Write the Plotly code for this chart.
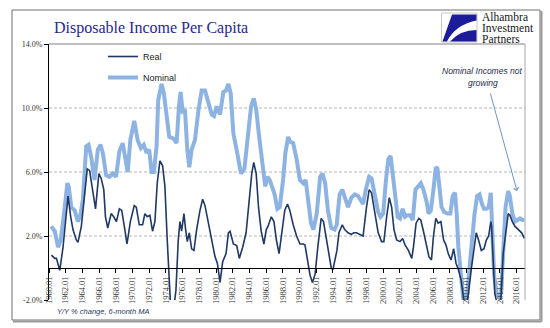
import plotly.graph_objects as go

# Nominal disposable income per capita, Y/Y % change (6-month MA)
nominal_year = [
    1960.25, 1960.69, 1961.09, 1961.40, 1961.80, 1962.20, 1962.36, 1962.67, 1963.07, 1963.47,
    1963.79, 1964.06, 1964.46, 1964.74, 1965.06, 1965.45, 1965.85, 1966.17, 1966.44, 1966.84,
    1967.24, 1967.63, 1968.03, 1968.43, 1968.83, 1969.22, 1969.42, 1969.74, 1970.21, 1970.61,
    1971.01, 1971.35, 1971.68, 1972.00, 1972.28, 1972.56, 1972.88, 1973.08, 1973.48, 1973.76,
    1974.08, 1974.40, 1974.88, 1975.28, 1975.56, 1975.76, 1976.00, 1976.28, 1976.56, 1976.80,
    1977.08, 1977.48, 1977.88, 1978.28, 1978.68, 1979.08, 1979.48, 1979.76, 1980.08, 1980.48,
    1980.88, 1981.20, 1981.48, 1981.76, 1982.08, 1982.50, 1982.79, 1982.99, 1983.40, 1983.80,
    1984.20, 1984.52, 1984.81, 1985.21, 1985.61, 1985.90, 1986.14, 1986.42, 1986.70, 1987.02,
    1987.35, 1987.63, 1988.03, 1988.31, 1988.64, 1988.84, 1989.24, 1989.65, 1990.05, 1990.45,
    1990.73, 1991.06, 1991.38, 1991.66, 1992.06, 1992.47, 1992.75, 1993.07, 1993.40, 1993.80,
    1994.20, 1994.45, 1994.80, 1995.12, 1995.41, 1995.81, 1996.21, 1996.61, 1997.01, 1997.61,
    1997.94, 1998.34, 1998.62, 1999.02, 1999.42, 1999.70, 2000.02, 2000.35, 2000.63, 2000.91,
    2001.15, 2001.43, 2001.75, 2002.03, 2002.35, 2002.63, 2002.92, 2003.24, 2003.56, 2003.88,
    2004.24, 2004.52, 2004.84, 2005.24, 2005.45, 2005.72, 2006.04, 2006.32, 2006.52, 2006.73,
    2007.01, 2007.33, 2007.73, 2008.06, 2008.34, 2008.62, 2008.82, 2009.02, 2009.35, 2009.67,
    2009.95, 2010.23, 2010.56, 2010.96, 2011.28, 2011.56, 2011.85, 2012.09, 2012.37, 2012.65,
    2012.90, 2013.06, 2013.30, 2013.60, 2013.90, 2014.15, 2014.38, 2014.67, 2014.99, 2015.19,
    2015.48, 2015.80, 2016.12, 2016.40, 2016.69, 2016.93,
]
nominal_pct = [
    2.6, 2.3, 1.3, 1.75, 3.4, 5.3, 5.1, 3.8, 3.6, 2.9,
    3.4, 4.3, 7.6, 7.7, 6.9, 5.5, 7.4, 7.7, 7.2, 5.8,
    5.7, 5.9, 5.7, 7.3, 7.8, 6.6, 6.0, 8.0, 9.2, 8.0,
    7.5, 7.7, 7.2, 7.4, 6.0, 6.0, 7.6, 10.5, 11.5, 10.9,
    9.3, 8.2, 8.1, 7.8, 10.1, 11.0, 9.8, 9.9, 7.4, 6.3,
    7.4, 8.0, 9.8, 11.1, 11.1, 10.3, 9.6, 9.5, 10.1, 9.6,
    11.0, 11.1, 11.5, 10.9, 8.4, 7.3, 6.2, 5.9, 6.2, 8.2,
    10.1, 10.6, 9.9, 8.0, 6.3, 5.1, 5.7, 5.5, 5.1, 4.6,
    3.7, 3.8, 5.5, 7.2, 8.2, 7.9, 7.8, 6.8, 5.5, 5.3,
    5.5, 4.3, 2.8, 2.4, 3.4, 5.7, 5.9, 5.3, 3.6, 2.5,
    2.4, 2.7, 4.6, 4.9, 4.5, 3.8, 4.4, 4.6, 4.5, 4.0,
    4.9, 5.7, 5.6, 4.5, 3.5, 3.2, 3.4, 5.5, 6.8, 7.0,
    5.9, 4.3, 3.2, 3.1, 3.7, 3.2, 3.3, 3.3, 3.0, 4.9,
    5.1, 5.3, 4.9, 4.1, 3.4, 3.6, 4.9, 6.3, 6.2, 5.3,
    3.8, 3.5, 3.4, 3.4, 4.5, 4.7, 3.4, 1.3, -1.0, -2.3,
    -2.3, -0.75, 1.3, 3.4, 4.5, 4.6, 4.0, 3.7, 3.7, 3.8,
    4.7, 3.0, -0.4, -1.6, -1.8, -1.5, 1.0, 3.8, 4.8, 4.5,
    3.4, 2.9, 3.0, 3.1, 3.0, 3.0,
]

# Real disposable income per capita, Y/Y % change (6-month MA)
real_year = [
    1960.29, 1960.69, 1960.89, 1961.17, 1961.29, 1961.68, 1961.96, 1962.28, 1962.60, 1962.87,
    1963.27, 1963.47, 1963.87, 1964.18, 1964.58, 1964.86, 1965.25, 1965.57, 1965.97, 1966.25,
    1966.56, 1966.76, 1967.04, 1967.44, 1967.75, 1968.07, 1968.43, 1968.71, 1969.02, 1969.34,
    1969.74, 1970.21, 1970.45, 1970.81, 1971.21, 1971.48, 1971.76, 1972.08, 1972.40, 1972.68,
    1972.96, 1973.28, 1973.60, 1973.88, 1974.16, 1974.40, 1974.56, 1974.88, 1975.20, 1975.48,
    1975.68, 1975.88, 1976.16, 1976.36, 1976.56, 1976.80, 1977.08, 1977.36, 1977.68, 1978.08,
    1978.40, 1978.68, 1979.08, 1979.48, 1979.88, 1980.16, 1980.48, 1980.80, 1981.20, 1981.48,
    1981.68, 1982.08, 1982.48, 1982.79, 1983.19, 1983.60, 1984.00, 1984.28, 1984.52, 1984.81,
    1985.09, 1985.41, 1985.73, 1986.02, 1986.22, 1986.62, 1986.94, 1987.23, 1987.55, 1987.83,
    1988.23, 1988.56, 1988.84, 1989.24, 1989.65, 1990.05, 1990.45, 1990.65, 1990.98, 1991.26,
    1991.54, 1991.86, 1992.19, 1992.59, 1992.87, 1993.15, 1993.48, 1993.80, 1994.00, 1994.20,
    1994.48, 1994.72, 1995.12, 1995.41, 1995.81, 1996.21, 1996.49, 1996.81, 1997.21, 1997.61,
    1998.02, 1998.34, 1998.62, 1999.02, 1999.42, 1999.82, 2000.10, 2000.43, 2000.75, 2001.03,
    2001.31, 2001.63, 2002.03, 2002.35, 2002.63, 2003.04, 2003.44, 2003.64, 2003.96, 2004.28,
    2004.52, 2004.84, 2005.20, 2005.50, 2005.80, 2006.04, 2006.32, 2006.60, 2006.93, 2007.25,
    2007.53, 2007.81, 2008.14, 2008.46, 2008.74, 2009.02, 2009.35, 2009.67, 2009.95, 2010.23,
    2010.56, 2010.88, 2011.16, 2011.44, 2011.77, 2012.09, 2012.37, 2012.65, 2012.90, 2013.00,
    2013.18, 2013.38, 2013.70, 2014.10, 2014.39, 2014.67, 2014.99, 2015.19, 2015.48, 2015.80,
    2016.20, 2016.60, 2016.93,
]
real_pct = [
    0.8, 0.6, 0.6, 0.0, -0.15, 1.3, 2.6, 4.5, 3.2, 2.4,
    1.75, 1.6, 2.6, 4.0, 6.2, 6.1, 4.7, 3.7, 5.9, 5.6,
    4.9, 3.2, 2.5, 3.4, 3.2, 2.9, 3.7, 3.6, 2.6, 1.5,
    2.9, 3.9, 3.8, 2.7, 2.7, 3.4, 3.2, 3.3, 2.3, 2.9,
    5.3, 6.7, 6.4, 5.1, 1.75, -0.75, -2.4, -2.8, -1.4, 1.75,
    2.9, 2.3, 3.4, 2.4, 1.65, 2.2, 1.2, 1.1, 2.4, 3.6,
    4.3, 3.9, 2.8, 1.65, 0.7, 0.3, -0.9, 0.4, 0.9, 2.2,
    2.3, 1.5, 1.4, 0.6, 1.3, 2.2, 4.5, 5.9, 6.6, 5.9,
    3.8, 2.3, 1.5, 2.4, 2.6, 3.2, 2.9, 1.75, 0.9, 2.0,
    3.6, 4.0, 3.6, 2.7, 2.0, 1.5, 1.5, 1.45, 0.5, -0.45,
    -0.9, -0.4, 1.3, 3.1, 2.9, 2.0, 0.9, 0.0, -0.1, 0.5,
    1.1, 2.2, 2.7, 2.4, 2.2, 2.1, 2.2, 2.2, 2.1, 2.0,
    3.8, 4.9, 4.7, 3.4, 2.2, 1.65, 1.65, 3.2, 4.4, 3.8,
    2.4, 1.75, 1.65, 1.85, 1.45, 1.1, 0.6, 1.3, 2.8, 3.1,
    3.0, 2.3, 1.4, 0.7, 0.5, 2.0, 3.1, 2.8, 2.9, 1.75,
    1.45, 0.9, 0.5, 1.2, 0.3, -0.1, -0.75, -2.0, -2.5, -1.6,
    -0.1, 1.3, 2.2, 1.75, 1.1, 1.2, 1.75, 2.0, 2.9, 2.6,
    0.5, -1.6, -2.3, -2.1, 0.9, 2.2, 3.4, 3.3, 2.9, 2.6,
    2.4, 2.2, 1.85,
]

tick_years = list(range(1960, 2017, 2))
tick_labels = [f"{y}.01" for y in tick_years]
y_ticks = [-2, 2, 6, 10, 14]
y_tick_labels = [f"{v:.1f}%" for v in y_ticks]
grid_levels = [2, 6, 10]

W, H = 550, 328
ML, MR, MT, MB = 49, 25, 44, 28


def px(x):
    """pixel column -> paper x"""
    return (x - ML) / (W - ML - MR)


def py(y):
    """pixel row -> paper y"""
    return (H - MB - y) / (H - MT - MB)


fig = go.Figure()
fig.add_trace(go.Scatter(
    x=nominal_year, y=nominal_pct, mode="lines", name="Nominal",
    line=dict(color="#8db3e2", width=4), legendgroup="n", legendrank=2,
))
fig.add_trace(go.Scatter(
    x=real_year, y=real_pct, mode="lines", name="Real",
    line=dict(color="#1f3864", width=1.6), legendgroup="r", legendrank=1,
))

shapes = []
for g in grid_levels:
    shapes.append(dict(type="line", xref="paper", yref="y", x0=0, x1=1, y0=g, y1=g,
                       line=dict(color="#b4b4b4", width=1, dash="3px,2px"), layer="below"))
# plot-area top and right border
shapes.append(dict(type="line", xref="paper", yref="paper", x0=0, x1=1, y0=1, y1=1,
                   line=dict(color="#c0c0c0", width=2)))
shapes.append(dict(type="line", xref="paper", yref="paper", x0=1, x1=1, y0=0, y1=1,
                   line=dict(color="#a6a6a6", width=1)))
# outer frame with a soft drop edge
shapes.append(dict(type="rect", xref="paper", yref="paper",
                   x0=px(12), x1=px(540), y0=py(320), y1=py(10),
                   line=dict(color="#6e6e6e", width=1)))
shapes.append(dict(type="line", xref="paper", yref="paper",
                   x0=px(541.5), x1=px(541.5), y0=py(321.5), y1=py(11),
                   line=dict(color="#9a9a9a", width=2)))
shapes.append(dict(type="line", xref="paper", yref="paper",
                   x0=px(13), x1=px(541.5), y0=py(321.5), y1=py(321.5),
                   line=dict(color="#9a9a9a", width=2)))
# logo box
shapes.append(dict(type="rect", xref="paper", yref="paper",
                   x0=px(441.5), x1=px(477), y0=py(42), y1=py(13),
                   fillcolor="white", line=dict(color="#c8c8c8", width=1)))


def pt(x, y):
    return f"{px(x):.5f},{py(y):.5f}"


logo_a = (f"M {pt(452, 14.5)} L {pt(476.5, 14.5)} L {pt(476.5, 20.5)} "
          f"Q {pt(455, 25)} {pt(447, 41.5)} L {pt(442.5, 41.5)} Z")
logo_b = (f"M {pt(450, 41.5)} Q {pt(460, 30)} {pt(476.5, 30)} "
          f"L {pt(476.5, 41.5)} Z")
for p in (logo_a, logo_b):
    shapes.append(dict(type="path", xref="paper", yref="paper", path=p,
                       fillcolor="#1b1b9c", line=dict(width=0)))

annotations = [
    dict(text="Disposable Income Per Capita", x=px(52), y=py(28), xref="paper", yref="paper",
         xanchor="left", yanchor="middle", showarrow=False,
         font=dict(family="Liberation Serif", size=16, color="#28288a")),
    dict(text="<i>Y/Y % change, 6-month MA</i>", x=px(55), y=py(311), xref="paper", yref="paper",
         xanchor="left", yanchor="middle", showarrow=False,
         font=dict(family="Liberation Sans", size=7.5, color="#1f3864")),
    dict(text="<i>Nominal Incomes not</i>", x=px(482), y=py(71), xref="paper", yref="paper",
         xanchor="center", yanchor="middle", showarrow=False,
         font=dict(family="Liberation Sans", size=8.5, color="#1f2d4d")),
    dict(text="<i>growing</i>", x=px(482.5), y=py(83), xref="paper", yref="paper",
         xanchor="center", yanchor="middle", showarrow=False,
         font=dict(family="Liberation Sans", size=8.5, color="#1f2d4d")),
    dict(text="", x=px(517), y=py(191), xref="paper", yref="paper",
         ax=490 - 517, ay=92 - 191, showarrow=True, arrowhead=4, arrowsize=1,
         arrowwidth=1, arrowcolor="#6f93c8", standoff=0),
]
for txt, yy in (("Alhambra", 17), ("Investment", 28), ("Partners", 39)):
    annotations.append(dict(text=txt, x=px(479.5), y=py(yy), xref="paper", yref="paper",
                            xanchor="left", yanchor="middle", showarrow=False,
                            font=dict(family="Liberation Serif", size=11.5, color="#161616")))

fig.update_layout(
    width=W, height=H,
    margin=dict(l=ML, r=MR, t=MT, b=MB),
    paper_bgcolor="white", plot_bgcolor="white",
    showlegend=True,
    legend=dict(x=px(103), y=py(42), xanchor="left", yanchor="top",
                bgcolor="rgba(0,0,0,0)", tracegroupgap=2,
                font=dict(family="Liberation Sans", size=9, color="#1a1a1a")),
    shapes=shapes,
    annotations=annotations,
    xaxis=dict(
        range=[1960, 2017], tickmode="array", tickvals=tick_years, ticktext=tick_labels,
        tickangle=-90, ticks="outside", ticklen=4, tickcolor="#000", tickwidth=1,
        showline=True, linecolor="#000", linewidth=1,
        showgrid=False, zeroline=False,
        anchor="free", position=(0 - (-2)) / (14 - (-2)),
        tickfont=dict(family="Liberation Serif", size=8.5, color="#333"),
    ),
    yaxis=dict(
        range=[-2, 14], tickmode="array", tickvals=y_ticks, ticktext=y_tick_labels,
        ticks="outside", ticklen=4, tickcolor="#000", tickwidth=1,
        showline=True, linecolor="#000", linewidth=1,
        showgrid=False, zeroline=False,
        tickfont=dict(family="Liberation Serif", size=8, color="#333"),
    ),
)

fig.write_html("out.html")
